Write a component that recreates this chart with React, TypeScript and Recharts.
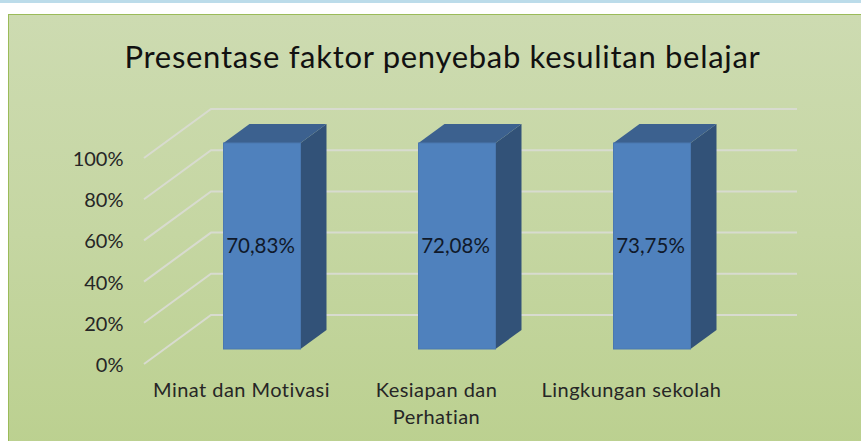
import React from "react";
import { BarChart, Bar, XAxis, YAxis, CartesianGrid, LabelList } from "recharts";

const kategori = ["Minat dan Motivasi", "Kesiapan dan Perhatian", "Lingkungan sekolah"];
const persentase = [70.83, 72.08, 73.75];
const labelPersen = ["70,83%", "72,08%", "73,75%"];
const yTicks = [0, 0.2, 0.4, 0.6, 0.8, 1];

const data = kategori.map((nama, i) => ({ nama, nilai: persentase[i], label: labelPersen[i] }));

const FONT = "Lato, 'Open Sans', sans-serif";
const TEXT_COLOR = "#262626";

// 3D offsets
const BAR_DX = 26;
const BAR_DY = -19;
const FRONT_DX = -20.5;
const FRONT_DY = 15;
const BACK_DX = 46.5;
const BACK_DY = -34;

function Bar3D({ x, y, width, height }: any) {
    const r = x + width;
    const b = y + height;
    return (
        <g>
            <polygon
                points={`${r},${y} ${r + BAR_DX},${y + BAR_DY} ${r + BAR_DX},${b + BAR_DY} ${r},${b}`}
                fill="#325278"
            />
            <polygon
                points={`${x},${y} ${x + BAR_DX},${y + BAR_DY} ${r + BAR_DX},${y + BAR_DY} ${r},${y}`}
                fill="#3c618f"
            />
            <rect x={x} y={y} width={width} height={height} fill="#4f81bd" stroke="#4a78b0" strokeWidth={1} />
        </g>
    );
}

// slanted floor line plus the line on the back wall
function GridLine({ x1, x2, y1 }: any) {
    const points = `${x1 + FRONT_DX},${y1 + FRONT_DY} ${x1 + BACK_DX},${y1 + BACK_DY} ${x2 + BACK_DX + 1},${y1 + BACK_DY}`;
    return <polyline points={points} fill="none" stroke="#d8dbcf" strokeWidth={2} />;
}

function YTick({ x, y, payload }: any) {
    return (
        <text x={x - 33} y={y + FRONT_DY + 8} textAnchor="end" fontFamily={FONT} fontSize={20} fill={TEXT_COLOR}>
            {Math.round(payload.value * 100)}%
        </text>
    );
}

function XTick({ x, y, payload }: any) {
    const words = payload.value.split(" ");
    const lines = payload.value.length > 20
        ? [words.slice(0, -1).join(" "), words[words.length - 1]]
        : [payload.value];
    return (
        <text x={x + FRONT_DX} y={y} textAnchor="middle" fontFamily={FONT} fontSize={20} fill={TEXT_COLOR} letterSpacing={0.45}>
            {lines.map((line: string, i: number) => (
                <tspan key={i} x={x + FRONT_DX} dy={i === 0 ? 40 : 27}>{line}</tspan>
            ))}
        </text>
    );
}

export default function App() {
    return (
        <div style={{ position: "absolute", left: 0, top: 0, width: 861, height: 441, background: "#fff", overflow: "hidden" }}>
            <div style={{ position: "absolute", left: 0, top: 0, width: 861, height: 3, background: "#bcdcea" }} />
            <div
                style={{
                    position: "absolute",
                    left: 8,
                    top: 14,
                    width: 860,
                    height: 440,
                    boxSizing: "border-box",
                    border: "1px solid #9bbb59",
                    background: "linear-gradient(180deg, #cddbb1 0%, #c5d6a2 50%, #bbd08f 100%)",
                }}
            />
            <div
                style={{
                    position: "absolute",
                    left: 0,
                    width: 885,
                    top: 37,
                    textAlign: "center",
                    fontFamily: FONT,
                    fontSize: 31,
                    lineHeight: "38px",
                    color: "#111",
                    letterSpacing: 0.7,
                    whiteSpace: "nowrap",
                }}
            >
                Presentase faktor penyebab kesulitan belajar
            </div>
            <div style={{ position: "absolute", left: 0, top: 0 }}>
                <BarChart
                    width={861}
                    height={441}
                    data={data}
                    stackOffset="expand"
                    margin={{ top: 143, right: 111.5, bottom: 0, left: 0 }}
                    barSize={77}
                >
                    <CartesianGrid vertical={false} horizontal={(props: any) => <GridLine key={props.key} {...props} />} />
                    <XAxis dataKey="nama" height={92} axisLine={false} tickLine={false} interval={0} tick={<XTick />} />
                    <YAxis
                        type="number"
                        domain={[0, 1]}
                        ticks={yTicks}
                        width={164.5}
                        axisLine={false}
                        tickLine={false}
                        tick={<YTick />}
                    />
                    <Bar dataKey="nilai" stackId="a" shape={<Bar3D />} isAnimationActive={false}>
                        <LabelList dataKey="label" position="center" dx={-1.5} fontFamily={FONT} fontSize={20.5} fill="#10192a" />
                    </Bar>
                </BarChart>
            </div>
        </div>
    );
}
